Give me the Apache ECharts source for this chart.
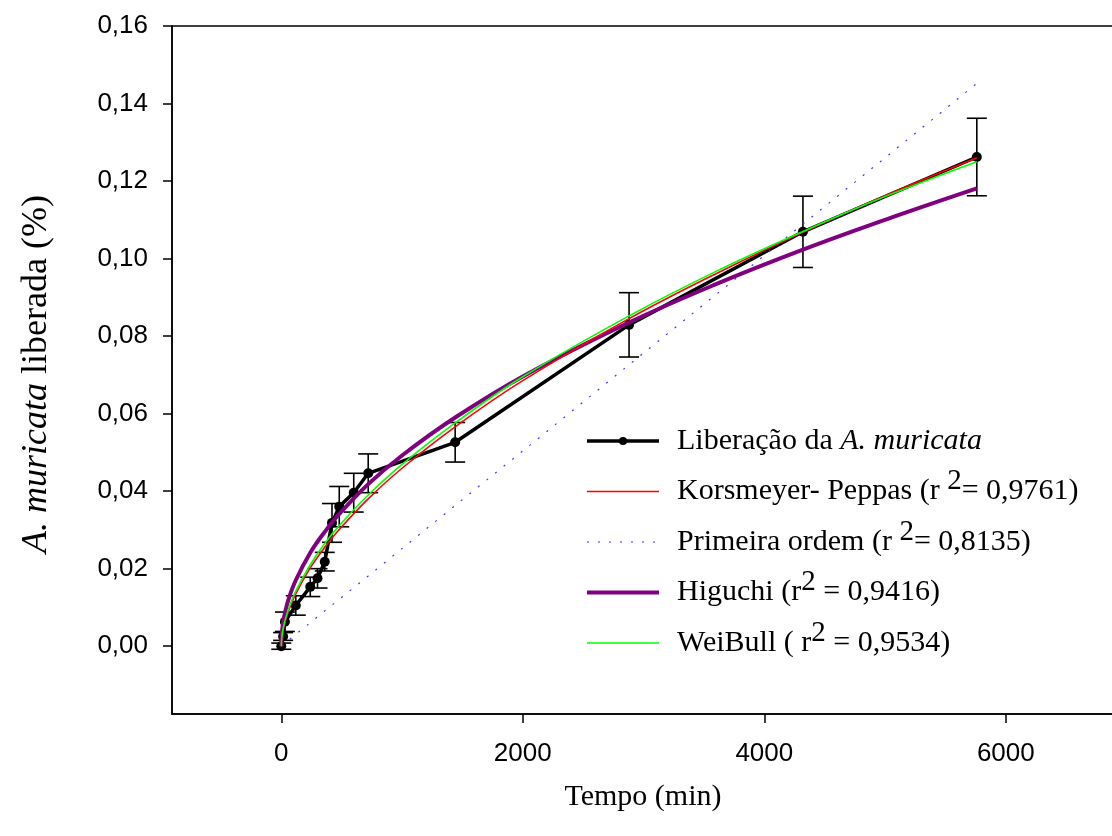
<!DOCTYPE html>
<html>
<head>
<meta charset="utf-8">
<script src="https://cdn.jsdelivr.net/npm/echarts@6/dist/echarts.min.js"></script>
<style>
html,body{margin:0;padding:0;background:#fff;}
#chart{width:1112px;height:836px;}
</style>
</head>
<body>
<div id="chart"></div>
<script>
// ---- Data ----
const times       = [0, 15, 30, 120, 240, 300, 360, 420, 480, 600, 720, 1440, 2880, 4320, 5760];
const release     = [0.0000, 0.0025, 0.0063, 0.0105, 0.0153, 0.0175, 0.0218, 0.0318, 0.0360, 0.0396, 0.0446, 0.0526, 0.0829, 0.1069, 0.1262];
const releaseErr  = [0.0008, 0.0010, 0.0025, 0.0025, 0.0025, 0.0025, 0.0024, 0.0050, 0.0052, 0.0050, 0.0050, 0.0051, 0.0083, 0.0092, 0.0100];

const fitTimes    = [0, 5, 15, 30, 60, 120, 240, 360, 480, 720, 1000, 1440, 2000, 2880, 3600, 4320, 5000, 5760];
const peppas      = [0, 0.0022, 0.0041, 0.0061, 0.0091, 0.0135, 0.0202, 0.0255, 0.0301, 0.0380, 0.0459, 0.0566, 0.0685, 0.0845, 0.0961, 0.1068, 0.1162, 0.1260];
const weibull     = [0, 0.0025, 0.0045, 0.0065, 0.0096, 0.0142, 0.0210, 0.0265, 0.0311, 0.0390, 0.0469, 0.0576, 0.0695, 0.0852, 0.0967, 0.1070, 0.1160, 0.1250];
const higuchi     = [0, 0.0035, 0.0060, 0.0085, 0.0121, 0.0170, 0.0241, 0.0295, 0.0341, 0.0418, 0.0492, 0.0590, 0.0696, 0.0835, 0.0934, 0.1023, 0.1100, 0.1181];

const firstTimes  = [0, 360, 720, 1440, 2160, 2880, 3600, 4320, 5040, 5760];
const firstOrder  = [0, 0.0091, 0.0181, 0.0363, 0.0544, 0.0726, 0.0907, 0.1089, 0.1270, 0.1452];

const yTicks = [0, 0.02, 0.04, 0.06, 0.08, 0.10, 0.12, 0.14, 0.16];
const xTicks = [0, 2000, 4000, 6000];

const seriesNames = [
  'Liberação da A. muricata',
  'Korsmeyer- Peppas (r 2= 0,9761)',
  'Primeira ordem (r 2= 0,8135)',
  'Higuchi (r2 = 0,9416)',
  'WeiBull ( r2 = 0,9534)'
];
const legendRich = {
  'Liberação da A. muricata': 'Liberação da {i|A. muricata}',
  'Korsmeyer- Peppas (r 2= 0,9761)': 'Korsmeyer- Peppas (r {s|2}= 0,9761)',
  'Primeira ordem (r 2= 0,8135)': 'Primeira ordem (r {s|2}= 0,8135)',
  'Higuchi (r2 = 0,9416)': 'Higuchi (r{s|2} = 0,9416)',
  'WeiBull ( r2 = 0,9534)': 'WeiBull ( r{s|2} = 0,9534)'
};

const SERIF = '"Liberation Serif", "Times New Roman", serif';
const SANS = '"Liberation Sans", Arial, sans-serif';
const SERIF_SIZE = 30;
const YNAME_SIZE = 36;
const LH = 36;

const pair = (xs, ys) => xs.map((x, i) => [x, ys[i]]);
const noSym = 'rgba(0,0,0,0)';

const chart = echarts.init(document.getElementById('chart'), null, {renderer: 'canvas'});

const option = {
  animation: false,
  backgroundColor: '#fff',
  grid: {
    left: 172, top: 26, right: -2, bottom: 122,
    show: true, borderColor: '#000', borderWidth: 1.5,
    outerBoundsMode: 'none', containLabel: false
  },
  legend: {
    data: seriesNames,
    orient: 'vertical',
    left: 585,
    top: 423,
    padding: 0,
    itemWidth: 72,
    itemHeight: 10,
    itemGap: 8,
    selectedMode: false,
    lineStyle: {width: 'inherit'},
    formatter: n => legendRich[n],
    textStyle: {
      fontFamily: SERIF, fontSize: SERIF_SIZE, color: '#000',
      lineHeight: LH, padding: [0, 0, 0, 13],
      rich: {
        i: {fontFamily: SERIF, fontSize: SERIF_SIZE, fontStyle: 'italic', color: '#000', lineHeight: LH, height: LH},
        s: {fontFamily: SERIF, fontSize: SERIF_SIZE - 1, color: '#000', lineHeight: LH, height: 16, padding: [0, 0, LH - 16, 0]}
      }
    }
  },
  xAxis: {
    type: 'value',
    min: -905, max: 6896,
    name: 'Tempo (min)',
    nameLocation: 'middle',
    nameGap: 68,
    nameTextStyle: {fontFamily: SERIF, fontSize: SERIF_SIZE, color: '#000'},
    axisLine: {show: true, onZero: false, lineStyle: {color: '#000', width: 1.5}},
    axisTick: {show: true, customValues: xTicks, length: 9, inside: false, lineStyle: {color: '#000', width: 1.5}},
    axisLabel: {customValues: xTicks, margin: 27, fontFamily: SANS, fontSize: 26, color: '#000',
                formatter: v => String(v)},
    splitLine: {show: false}
  },
  yAxis: {
    type: 'value',
    min: -0.0175, max: 0.16,
    name: '{i|A. muricata} liberada (%)',
    nameLocation: 'middle',
    nameGap: 117,
    nameRotate: 90,
    nameTextStyle: {fontFamily: SERIF, fontSize: YNAME_SIZE, color: '#000', padding: [0, 8, 0, 0],
      rich: {i: {fontFamily: SERIF, fontSize: YNAME_SIZE, fontStyle: 'italic', color: '#000'}}},
    axisLine: {show: true, onZero: false, lineStyle: {color: '#000', width: 1.5}},
    axisTick: {show: true, customValues: yTicks, length: 9, inside: false, lineStyle: {color: '#000', width: 1.5}},
    axisLabel: {customValues: yTicks, margin: 24, fontFamily: SANS, fontSize: 26, color: '#000',
                formatter: v => v.toFixed(2).replace('.', ',')},
    splitLine: {show: false}
  },
  series: [
    {
      type: 'custom',
      name: 'errorbars',
      z: 2,
      data: times.map((t, i) => [t, release[i] - releaseErr[i], release[i] + releaseErr[i]]),
      encode: {x: 0, y: [1, 2]},
      renderItem: (params, api) => {
        const x = api.value(0);
        const lo = api.coord([x, api.value(1)]);
        const hi = api.coord([x, api.value(2)]);
        const w = 10;
        const st = {stroke: '#000', lineWidth: 1.6};
        return {type: 'group', children: [
          {type: 'line', shape: {x1: lo[0], y1: lo[1], x2: hi[0], y2: hi[1]}, style: st},
          {type: 'line', shape: {x1: lo[0] - w, y1: lo[1], x2: lo[0] + w, y2: lo[1]}, style: st},
          {type: 'line', shape: {x1: hi[0] - w, y1: hi[1], x2: hi[0] + w, y2: hi[1]}, style: st}
        ]};
      }
    },
    {
      type: 'line',
      name: seriesNames[0],
      z: 3,
      data: pair(times, release),
      symbol: 'circle', symbolSize: 10,
      showSymbol: true,
      itemStyle: {color: '#000'},
      lineStyle: {color: '#000', width: 3.5}
    },
    {
      type: 'line',
      name: seriesNames[2],
      z: 4,
      data: pair(firstTimes, firstOrder),
      symbol: 'none',
      itemStyle: {color: noSym},
      lineStyle: {color: '#3a3aff', width: 1.2, type: [2, 9]}
    },
    {
      type: 'line',
      name: seriesNames[3],
      z: 5,
      data: pair(fitTimes, higuchi),
      symbol: 'none',
      smooth: 0.4,
      itemStyle: {color: noSym},
      lineStyle: {color: '#800080', width: 4}
    },
    {
      type: 'line',
      name: seriesNames[1],
      z: 6,
      data: pair(fitTimes, peppas),
      symbol: 'none',
      smooth: 0.4,
      itemStyle: {color: noSym},
      lineStyle: {color: '#ff0000', width: 1.6}
    },
    {
      type: 'line',
      name: seriesNames[4],
      z: 7,
      data: pair(fitTimes, weibull),
      symbol: 'none',
      smooth: 0.4,
      itemStyle: {color: noSym},
      lineStyle: {color: '#00ff00', width: 1.6}
    }
  ]
};

chart.setOption(option);
</script>
</body>
</html>
